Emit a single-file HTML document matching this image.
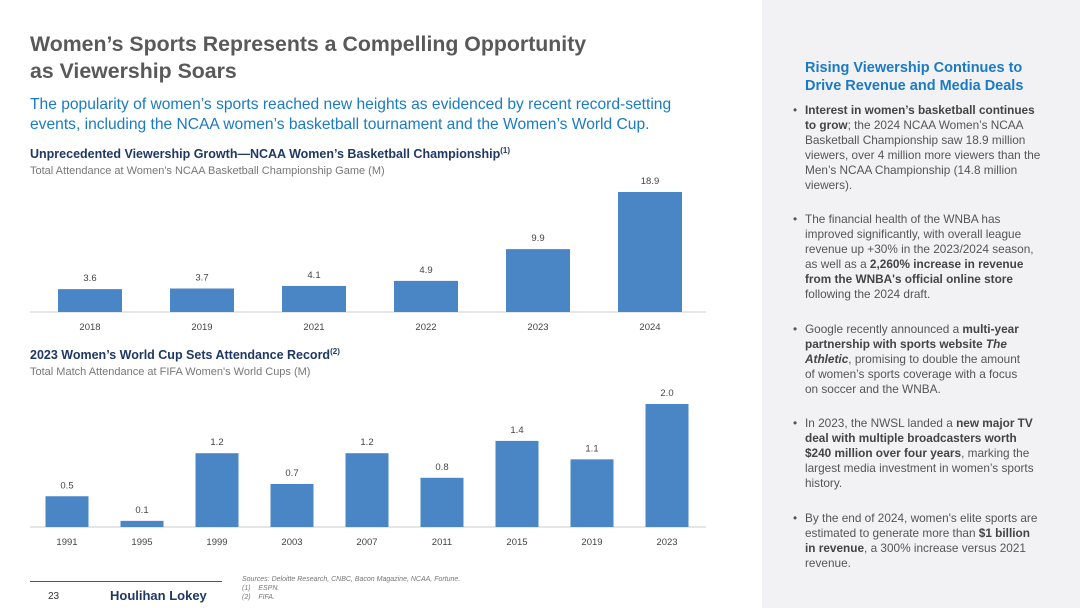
<!DOCTYPE html>
<html><head><meta charset="utf-8"><style>
body{margin:0;width:1080px;height:608px;overflow:hidden;background:#fff;font-family:"Liberation Sans",sans-serif;position:relative}
.a{position:absolute;white-space:nowrap}
#panel{position:absolute;left:762px;top:0;width:318px;height:608px;background:#f2f2f4}
.pt{left:805px;top:59px;color:#1a7bc4;font-size:14.5px;font-weight:bold;line-height:18px}
.b{left:805px;font-size:11.8px;color:#555;line-height:15px}
.b b{color:#444}
.dot{position:absolute;left:-12px;top:0}
</style></head><body>
<div class="a" style="left:30px;top:31px;font-size:21.3px;font-weight:bold;color:#595959;line-height:27px">Women’s Sports Represents a Compelling Opportunity<br>as Viewership Soars</div>
<div class="a" style="left:30px;top:95px;font-size:15.6px;color:#1a7bc4;line-height:20px">The popularity of women’s sports reached new heights as evidenced by recent record-setting<br>events, including the NCAA women’s basketball tournament and the Women’s World Cup.</div>
<div class="a" style="left:30px;top:146px;font-size:12.5px;font-weight:bold;color:#1f3864">Unprecedented Viewership Growth—NCAA Women’s Basketball Championship<sup style="font-size:8px">(1)</sup></div>
<div class="a" style="left:30px;top:165px;font-size:11px;color:#777">Total Attendance at Women's NCAA Basketball Championship Game (M)</div>
<div class="a" style="left:30px;top:347px;font-size:12.5px;font-weight:bold;color:#1f3864">2023 Women’s World Cup Sets Attendance Record<sup style="font-size:8px">(2)</sup></div>
<div class="a" style="left:30px;top:366px;font-size:11px;color:#777">Total Match Attendance at FIFA Women's World Cups (M)</div>
<svg id="c" width="762" height="608" style="position:absolute;left:0;top:0"></svg>
<div class="a" style="left:30px;top:581px;width:192px;height:1px;background:#555"></div>
<div class="a" style="left:48px;top:591px;font-size:10px;color:#333">23</div>
<div class="a" style="left:110px;top:588px;font-size:13px;font-weight:bold;color:#1f3864">Houlihan Lokey</div>
<div class="a" style="left:242px;top:575px;font-size:7px;font-style:italic;color:#777;line-height:9px">Sources: Deloitte Research, CNBC, Bacon Magazine, NCAA, Fortune.<br>(1)&nbsp;&nbsp;&nbsp;&nbsp;ESPN.<br>(2)&nbsp;&nbsp;&nbsp;&nbsp;FIFA.</div>
<div id="panel"></div>
<div class="a pt">Rising Viewership Continues to<br>Drive Revenue and Media Deals</div>
<div class="a b" style="top:103px"><span class="dot">•</span><b>Interest in women’s basketball continues<br>to grow</b>; the 2024 NCAA Women’s NCAA<br>Basketball Championship saw 18.9 million<br>viewers, over 4 million more viewers than the<br>Men’s NCAA Championship (14.8 million<br>viewers).</div>
<div class="a b" style="top:212px"><span class="dot">•</span>The financial health of the WNBA has<br>improved significantly, with overall league<br>revenue up +30% in the 2023/2024 season,<br>as well as a <b>2,260% increase in revenue<br>from the WNBA's official online store</b><br>following the 2024 draft.</div>
<div class="a b" style="top:322px"><span class="dot">•</span>Google recently announced a <b>multi-year<br>partnership with sports website <i>The<br>Athletic</i></b>, promising to double the amount<br>of women’s sports coverage with a focus<br>on soccer and the WNBA.</div>
<div class="a b" style="top:416px"><span class="dot">•</span>In 2023, the NWSL landed a <b>new major TV<br>deal with multiple broadcasters worth<br>$240 million over four years</b>, marking the<br>largest media investment in women’s sports<br>history.</div>
<div class="a b" style="top:511px"><span class="dot">•</span>By the end of 2024, women's elite sports are<br>estimated to generate more than <b>$1 billion<br>in revenue</b>, a 300% increase versus 2021<br>revenue.</div>
<script>
const years1=["2018","2019","2021","2022","2023","2024"];
const values1=[3.6,3.7,4.1,4.9,9.9,18.9];
const years2=["1991","1995","1999","2003","2007","2011","2015","2019","2023"];
const values2=[0.5,0.1,1.2,0.7,1.2,0.8,1.4,1.1,2.0];
const svg=document.getElementById('c');const NS='http://www.w3.org/2000/svg';
function el(t,a){const e=document.createElementNS(NS,t);for(const k in a)e.setAttribute(k,a[k]);svg.appendChild(e);return e;}
function chart(cats,vals,opt,prefix){
  const x=i=>opt.x0+i*opt.step, y=v=>opt.base-v*opt.scale;
  const ax=el('line',{x1:30,x2:706,y1:opt.base,y2:opt.base,stroke:'#ccc','stroke-width':1});
  
  
  cats.forEach((c,i)=>{
    const r=el('rect',{x:x(i)-opt.w/2,y:y(vals[i]),width:opt.w,height:opt.base-y(vals[i]),fill:'#4a86c5'});
    
    
    const v=el('text',{x:x(i),y:y(vals[i])-8,'text-anchor':'middle','font-size':'9.5','fill':'#444','font-family':'Liberation Sans'});
    v.textContent=vals[i].toFixed(1);
    
    
    const t=el('text',{x:x(i),y:opt.base+18,'text-anchor':'middle','font-size':'9.5','fill':'#444','font-family':'Liberation Sans'});
    t.textContent=c;
    
    
  });
}
chart(years1,values1,{x0:90,step:112,w:64,base:312,scale:6.35},'chart1');
chart(years2,values2,{x0:67,step:75,w:43,base:527,scale:61.5},'chart2');
</script>
</body></html>
